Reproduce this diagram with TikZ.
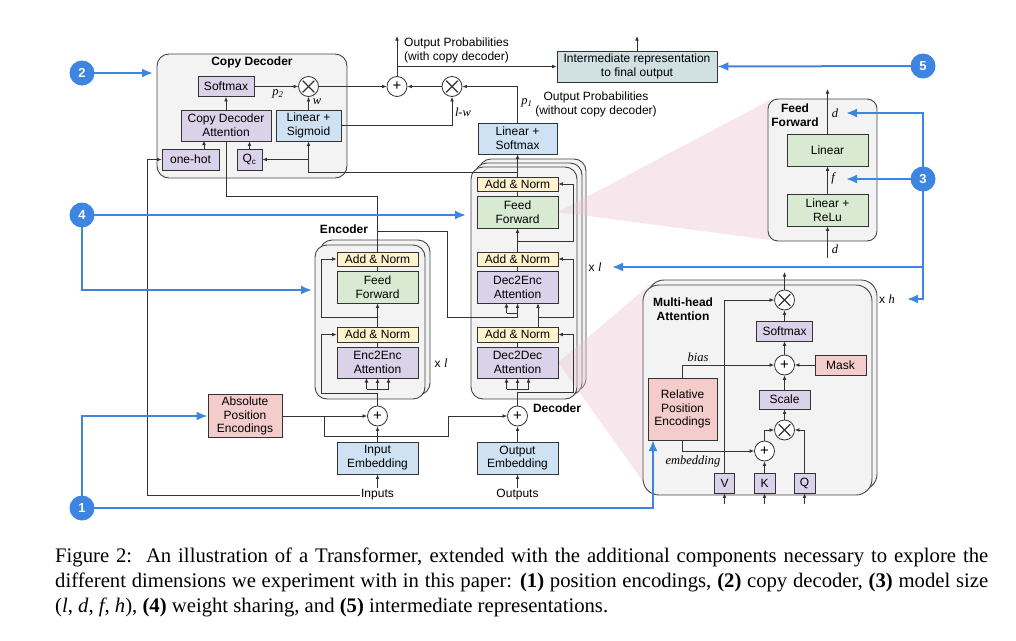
\documentclass[tikz,border=0pt]{standalone}
\usepackage{fontspec}
\setmainfont{Liberation Sans}
\newfontfamily\serif{Liberation Serif}
\usetikzlibrary{arrows.meta,calc}
\definecolor{bdr}{HTML}{333333}
\definecolor{cbdr}{HTML}{444444}
\definecolor{cfill}{HTML}{F3F3F3}
\definecolor{purp}{HTML}{D9D2E9}
\definecolor{lblue}{HTML}{CFE2F3}
\definecolor{yell}{HTML}{FFF2CC}
\definecolor{grn}{HTML}{D9EAD3}
\definecolor{pnk}{HTML}{F4CCCC}
\definecolor{intc}{HTML}{D0E0E3}
\definecolor{tri}{HTML}{EAC4D2}
\definecolor{blu}{RGB}{61,133,224}
\newcommand\dfont{\fontsize{12}{13.8}\selectfont}
\newcommand\lbl[1]{{\serif\itshape #1}}
\tikzset{
  bx/.style={draw=bdr, line width=0.8pt, inner sep=0pt, align=center, font=\dfont},
  sz/.style 2 args={minimum width=#1pt, minimum height=#2pt},
  cont/.style={draw=cbdr, fill=cfill, line width=0.9pt, rounded corners=12pt, inner sep=0pt},
  ttl/.style={font=\bfseries\dfont, align=center, inner sep=0pt},
  txt/.style={font=\dfont, align=center, inner sep=1pt},
  ital/.style={font=\fontsize{12.5}{13}\selectfont, inner sep=0pt},
  opx/.style={circle, draw=bdr, fill=white, line width=0.8pt, minimum size=20pt, inner sep=0pt,
    path picture={
      \draw[line width=1.3pt] ([shift={(-5.8pt,-5.8pt)}]path picture bounding box.center) -- ([shift={(5.8pt,5.8pt)}]path picture bounding box.center);
      \draw[line width=1.3pt] ([shift={(-5.8pt,5.8pt)}]path picture bounding box.center) -- ([shift={(5.8pt,-5.8pt)}]path picture bounding box.center);}},
  opp/.style={circle, draw=bdr, fill=white, line width=0.8pt, minimum size=20pt, inner sep=0pt, font=\fontsize{15}{15}\selectfont},
  ln/.style={draw=bdr, line width=0.75pt},
  ar/.style={ln, -{Latex[length=4.5pt,width=3.8pt]}},
  bline/.style={draw=blu, line width=2pt},
  bl/.style={bline, -{Latex[length=11pt,width=9pt]}},
  num/.style={circle, fill=blu, text=white, font=\bfseries\fontsize{13}{13}\selectfont, minimum size=25pt, inner sep=0pt}
}
\begin{document}
\begin{tikzpicture}[x=1pt,y=-1pt]
\useasboundingbox (0,0) rectangle (1016,640);

% ---------- containers ----------
\node[cont, sz={190}{124}] (cdbox) at (252,116) {};
\node[cont, sz={110}{155}] (encb) at (375,317.5) {};
\node[cont, sz={110}{154}] (encf) at (370,322) {};
\node[cont, sz={107}{232}] (decb2) at (532.5,275) {};
\node[cont, sz={107}{232}] (decb1) at (528.5,279) {};
\node[cont, sz={106}{232}] (decf) at (524,283) {};

% pink zoom wedges
\fill[tri, fill opacity=0.4] (558,212) -- (770,100) -- (770,240) -- cycle;
\fill[tri, fill opacity=0.4] (558,362.5) -- (652,283) -- (652,494) -- cycle;

\node[cont, sz={109}{142}, rounded corners=10pt] (ffbox) at (822.5,170) {};
\node[cont, sz={229}{210}, rounded corners=16pt] (mhab) at (762.5,385) {};
\node[cont, sz={229}{210}, rounded corners=16pt] (mhaf) at (757.5,390) {};

% titles
\node[ttl] (tcd) at (252,62) {Copy Decoder};
\node[ttl] (tenc) at (344,229) {Encoder};
\node[ttl] (tdec) at (557,408) {Decoder};
\node[ttl] (tff) at (795,115) {Feed\\Forward};
\node[ttl] (tmha) at (683,309) {Multi-head\\Attention};

% ---------- copy decoder ----------
\node[bx, fill=purp, sz={56}{20}] (cdsm) at (226,86.5) {Softmax};
\node[opx] (cdx) at (308.5,86.5) {};
\node[bx, fill=purp, sz={90}{31}] (cdatt) at (226,125.5) {Copy Decoder\\Attention};
\node[bx, fill=lblue, sz={65}{31}] (linsig) at (308.5,125.5) {Linear +\\Sigmoid};
\node[bx, fill=purp, sz={57}{21}] (onehot) at (190.5,159.5) {one-hot};
\node[bx, fill=purp, sz={25}{21}] (qc) at (249.5,159.5) {Q\textsubscript{c}};

% ---------- top ----------
\node[opp] (plus) at (397,86.5) {+};
\node[opx] (ox2) at (452,86.5) {};
\node[bx, fill=lblue, sz={79}{31}] (linsm) at (517.5,138.5) {Linear +\\Softmax};
\node[bx, fill=intc, sz={160}{31}] (inter) at (637,66.5) {Intermediate representation\\to final output};
\coordinate (o1) at (397,36);
\coordinate (o2) at (637,36);
\node[txt, anchor=west, align=left] (op1) at (403,50) {Output Probabilities\\(with copy decoder)};
\node[txt] (op2) at (596,104) {Output Probabilities\\(without copy decoder)};

% ---------- encoder ----------
\node[bx, fill=yell, sz={81}{14}] (ean2) at (377.5,259) {Add \& Norm};
\node[bx, fill=grn, sz={81}{32}] (eff) at (377.5,287) {Feed\\Forward};
\node[bx, fill=yell, sz={81}{15}] (ean1) at (377.5,334.5) {Add \& Norm};
\node[bx, fill=purp, sz={81}{31}] (eatt) at (377.5,362.5) {Enc2Enc\\Attention};
\node[opp] (eplus) at (377.5,416) {+};
\node[bx, fill=lblue, sz={81}{32}] (inemb) at (377.5,458) {Input\\Embedding};
\node[txt] (inputs) at (377.5,495) {Inputs};

% ---------- decoder ----------
\node[bx, fill=yell, sz={81}{14}] (dan3) at (517.5,184) {Add \& Norm};
\node[bx, fill=grn, sz={81}{32}] (dff) at (517.5,212) {Feed\\Forward};
\node[bx, fill=yell, sz={81}{14}] (dan2) at (517.5,259) {Add \& Norm};
\node[bx, fill=purp, sz={81}{32}] (datt2) at (517.5,287) {Dec2Enc\\Attention};
\node[bx, fill=yell, sz={81}{15}] (dan1) at (517.5,334.5) {Add \& Norm};
\node[bx, fill=purp, sz={81}{31}] (datt1) at (517.5,362.5) {Dec2Dec\\Attention};
\node[opp] (dplus) at (517.5,416) {+};
\node[bx, fill=lblue, sz={81}{32}] (outemb) at (517.5,458) {Output\\Embedding};
\node[txt] (outputs) at (517.5,495) {Outputs};

\node[bx, fill=pnk, sz={74}{43}] (ape) at (245,416) {Absolute\\Position\\Encodings};

% ---------- feed forward detail ----------
\node[bx, fill=grn, sz={81}{32}] (flin) at (827.5,150) {Linear};
\node[bx, fill=grn, sz={81}{32}] (frelu) at (827.5,210) {Linear +\\ReLu};
\coordinate (ftop) at (827.5,89);
\coordinate (fbot) at (827.5,258);

% ---------- multi-head attention ----------
\node[opx] (mx1) at (784.5,300) {};
\node[bx, fill=purp, sz={56}{20}] (msm) at (784.5,331) {Softmax};
\node[opp] (mplus) at (784.5,365) {+};
\node[bx, fill=pnk, sz={51}{20}] (mask) at (840.5,365) {Mask};
\node[bx, fill=purp, sz={51}{19}] (scale) at (784.5,399.5) {Scale};
\node[opx] (mx2) at (784.5,430) {};
\node[opp] (mplus2) at (764.5,451) {+};
\node[bx, fill=pnk, sz={69}{62}] (rpe) at (682.5,409) {Relative\\Position\\Encodings};
\node[bx, fill=purp, sz={20}{20}] (mv) at (724.5,483) {V};
\node[bx, fill=purp, sz={21}{20}] (mk) at (764.5,483) {K};
\node[bx, fill=purp, sz={21}{20}] (mq) at (804.5,483) {Q};
\coordinate (mtop) at (784.5,272);
\coordinate (iv) at (724.5,504);
\coordinate (ik) at (764.5,504);
\coordinate (iq) at (804.5,504);

% ---------- labels ----------
\node[ital] (lp2) at (278,94) {\lbl{p}\textsubscript{\lbl{2}}};
\node[ital] (lw) at (317,102) {\lbl{w}};
\node[ital] (llw) at (463,112) {\lbl{l-w}};
\node[ital] (lp1) at (527,103) {\lbl{p}\textsubscript{\lbl{1}}};
\node[ital] (xl1) at (441,363) {{\dfont x} \lbl{l}};
\node[ital] (xl2) at (595,267) {{\dfont x} \lbl{l}};
\node[ital] (xh) at (887,299) {{\dfont x} \lbl{h}};
\node[ital] (ld1) at (835,113) {\lbl{d}};
\node[ital] (lf) at (833,178) {\lbl{f}};
\node[ital] (ld2) at (835,249) {\lbl{d}};
\node[ital] (lbias) at (698,357) {\lbl{bias}};
\node[ital] (lemb) at (693,461) {\lbl{embedding}};

% ---------- wires: copy decoder & top ----------
\draw[ar] (cdsm.east) -- (cdx.west);
\draw[ar] (linsig.north) -- (cdx.south);
\draw[ar] (cdatt.north) -- (cdsm.south);
\draw[ar] ($(onehot.north)+(13.5,0)$) -- ++(0,-8);
\draw[ar] (qc.north) -- (qc.north |- cdatt.south);
\coordinate (dj) at (517.5,172.5);
\draw[ar] (dj) -| (linsig.south);
\draw[ar] (linsig.south |- qc.east) -- (qc.east);
\draw[ar] (dan3.north) -- (linsm.south);
\draw[ar] (linsig.east) -| (ox2.south);
\draw[ar] (cdx.east) -- (plus.west);
\draw[ar] (ox2.west) -- (plus.east);
\draw[ar] (linsm.north) |- (ox2.east);
\draw[ar] (plus.north) -- (o1);
\draw[ar] (plus.north |- inter.west) -- (inter.west);
\draw[ar] (inter.north) -- (o2);

% encoder output
\draw[ln] (ean2.north) -- ++(0,-55) -| (cdatt.south);
\coordinate (ej) at (377.5,231);
\draw[ln] (ej) -- (447,231) -- (447,317) -- (517.5,317) -- (517.5,313);
\draw[ln] (506.5,313) -- (517.5,313);
\draw[ar] (506.5,313) -- (506.5,303);
\draw[ar] (517.5,313) -- (datt2.south);

% decoder internals
\draw[ar] (outemb.north) -- (dplus.south);
\coordinate (dr1) at (517.5,392);
\draw[ln] (dplus.north) -- (dr1);
\draw[ar] (dr1) -- (573,392) -- (573,334.5) -- (dan1.east);
\draw[ln] (506.5,389) -- (528.5,389);
\draw[ar] (506.5,389) -- (506.5,378);
\draw[ar] (517.5,389) -- (datt1.south);
\draw[ar] (528.5,389) -- (528.5,378);
\draw[ln] (datt1.north) -- (dan1.south);
\draw[ar] ($(dan1.north)+(20.5,0)$) -- ($(datt2.south)+(20.5,0)$);
\draw[ar] (538,317) -- (573,317) -- (573,259) -- (dan2.east);
\draw[ln] (datt2.north) -- (dan2.south);
\draw[ar] (dan2.north) -- (dff.south);
\draw[ar] (517.5,241) -- (573,241) -- (573,184) -- (dan3.east);
\draw[ln] (dff.north) -- (dan3.south);

% encoder internals
\draw[ar] (inemb.north) -- (eplus.south);
\coordinate (er1) at (377.5,393);
\draw[ln] (eplus.north) -- (er1);
\draw[ar] (er1) -- (321,393) -- (321,334.5) -- (ean1.west);
\draw[ln] (366.5,389) -- (388.5,389);
\draw[ar] (366.5,389) -- (366.5,378);
\draw[ar] (377.5,389) -- (eatt.south);
\draw[ar] (388.5,389) -- (388.5,378);
\draw[ln] (eatt.north) -- (ean1.south);
\draw[ar] (ean1.north) -- (eff.south);
\draw[ar] (377.5,317) -- (321,317) -- (321,259) -- (ean2.west);
\draw[ln] (eff.north) -- (ean2.south);

% position encodings
\draw[ar] (ape.east) -- (eplus.west);
\draw[ar] (324,416) -- (324,436) -- (448,436) -- (448,416) -- (dplus.west);

% inputs / outputs
\draw[ar] (inputs.north) -- (inemb.south);
\coordinate (cin) at (147,495);
\draw[ln] (inputs.west) -- (cin);
\draw[ar] (cin) |- (onehot.west);
\draw[ar] (outputs.north) -- (outemb.south);

% feed forward detail
\draw[ar] (fbot) -- (frelu.south);
\draw[ar] (frelu.north) -- (flin.south);
\draw[ar] (flin.north) -- (ftop);

% multi-head attention
\draw[ar] (mx1.north) -- (mtop);
\draw[ar] (msm.north) -- (mx1.south);
\draw[ar] (mplus.north) -- (msm.south);
\draw[ar] (mask.west) -- (mplus.east);
\draw[ar] (scale.north) -- (mplus.south);
\draw[ar] (mx2.north) -- (scale.south);
\draw[ar] (mv.north) |- (mx1.west);
\draw[ar] (mk.north) -- (mplus2.south);
\draw[ar] (mq.north) |- (mx2.east);
\draw[ar] (mplus2.north) |- (mx2.west);
\draw[ar] (rpe.south) |- (mplus2.west);
\draw[ar] (rpe.north) |- (mplus.west);
\draw[ar] (iv) -- (mv.south);
\draw[ar] (ik) -- (mk.south);
\draw[ar] (iq) -- (mq.south);

% ---------- blue annotations ----------
\coordinate (c1p) at (82,508);
\coordinate (c2p) at (82,73);
\coordinate (c3p) at (923,179);
\coordinate (c4p) at (82,215);
\coordinate (c5p) at (923,66);
\coordinate (t1) at (653,440);
\coordinate (t2) at (153,73);
\coordinate (t4a) at (466,215);
\coordinate (t4b) at (312,290);
\coordinate (t3d) at (846,113);
\coordinate (t3f) at (846,179);
\coordinate (t3l) at (612,267);
\coordinate (t3h) at (907,299);
\coordinate (b3) at (923,267);
\draw[bl] (c1p) -| (t1);
\draw[bl] (c1p) |- (ape.west);
\draw[bl] (c2p) -- (t2);
\draw[bl] (c4p) -- (t4a);
\draw[bl] (c4p) |- (t4b);
\draw[bl] (c5p) -- (inter.east);
\draw[bl] (b3) |- (t3d);
\draw[bl] (b3) |- (t3h);
\draw[bl] (b3) -- (t3l);
\draw[bl] (c3p) -- (t3f);
\node[num] (c1) at (c1p) {1};
\node[num] (c2) at (c2p) {2};
\node[num] (c3) at (c3p) {3};
\node[num] (c4) at (c4p) {4};
\node[num] (c5) at (c5p) {5};

% ---------- caption ----------
\node[anchor=north west, inner sep=0pt, text width=933pt, align=justify,
      font=\serif\fontsize{20.7}{25}\selectfont] (cap) at (55,548)
{Figure 2:\ \ An illustration of a Transformer, extended with the additional components necessary to explore the\linebreak
different dimensions we experiment with in this paper: \textbf{(1)} position encodings, \textbf{(2)} copy decoder, \textbf{(3)} model size\linebreak
(\textit{l}, \textit{d}, \textit{f}, \textit{h}), \textbf{(4)} weight sharing, and \textbf{(5)} intermediate representations.};
\end{tikzpicture}
\end{document}
